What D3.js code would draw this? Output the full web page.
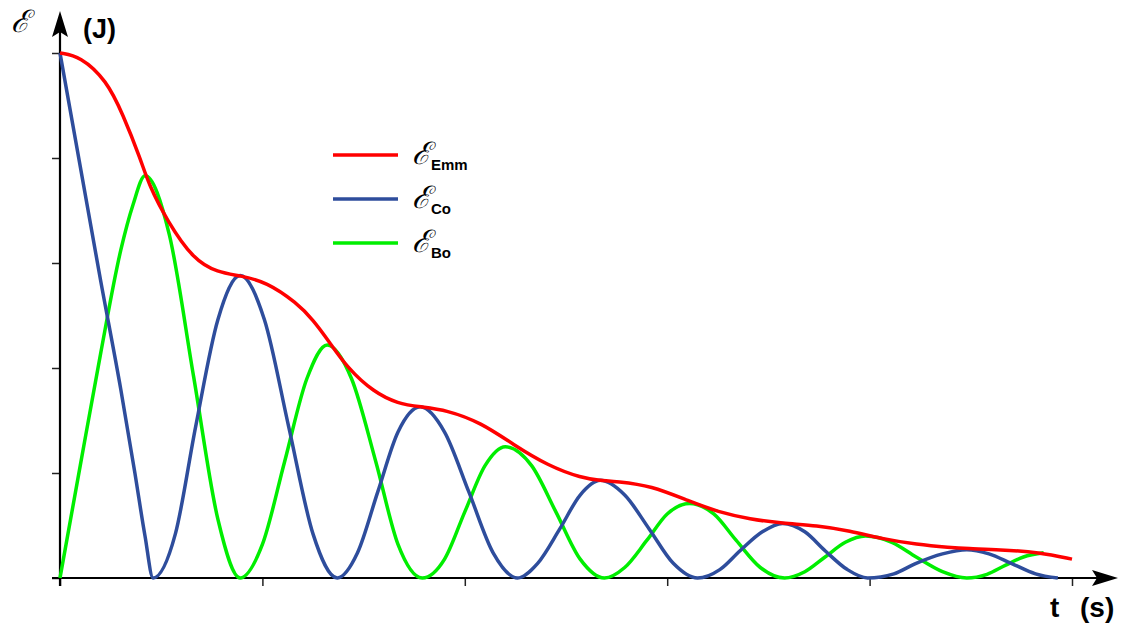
<!DOCTYPE html>
<html>
<head>
<meta charset="utf-8">
<script src="https://cdn.jsdelivr.net/npm/d3@7"></script>
<style>
  body { margin: 0; background: #fff; }
  .tick line { stroke: #222; stroke-width: 1.5; }
  .tick text { display: none; }
</style>
</head>
<body>
<script>
// time (s) and energy (J); axis units are the tick steps
var tickSteps = [0, 1, 2, 3, 4, 5];

var emmT = [0, 0.10, 0.23, 0.31, 0.40, 0.44, 0.53, 0.66, 0.78, 0.89, 1.02, 1.17, 1.25, 1.33, 1.42, 1.55,
            1.67, 1.78, 1.91, 2.08, 2.24, 2.41, 2.58, 2.67, 2.75, 2.92, 3.11, 3.25, 3.41, 3.57, 3.74,
            3.90, 4.07, 4.23, 4.40, 4.48, 4.64, 4.84, 5.00];
var emmE = [5.00, 4.97, 4.74, 4.42, 3.98, 3.74, 3.40, 3.03, 2.91, 2.88, 2.82, 2.62, 2.46, 2.25, 2.00, 1.77,
            1.66, 1.63, 1.60, 1.48, 1.27, 1.07, 0.95, 0.93, 0.92, 0.88, 0.73, 0.63, 0.56, 0.52, 0.50,
            0.45, 0.37, 0.32, 0.29, 0.28, 0.27, 0.245, 0.18];

var coT = [0, 0.20, 0.30, 0.37, 0.42, 0.46,
           0.57, 0.67, 0.78, 0.89, 1.01, 1.13, 1.25, 1.37,
           1.47, 1.57, 1.67, 1.78, 1.90, 2.02, 2.14, 2.26,
           2.36, 2.47, 2.57, 2.67, 2.79, 2.91, 3.03, 3.15,
           3.26, 3.36, 3.47, 3.57, 3.68, 3.78, 3.89, 3.99,
           4.12, 4.23, 4.36, 4.48, 4.59, 4.70, 4.82, 4.93];
var coE = [5.00, 2.84, 1.80, 1.00, 0.40, 0,
           0.42, 1.44, 2.46, 2.88, 2.46, 1.44, 0.42, 0,
           0.24, 0.82, 1.39, 1.63, 1.39, 0.82, 0.24, 0,
           0.14, 0.47, 0.79, 0.93, 0.79, 0.47, 0.14, 0,
           0.08, 0.26, 0.44, 0.52, 0.44, 0.26, 0.08, 0,
           0.04, 0.14, 0.23, 0.27, 0.23, 0.14, 0.04, 0];

var boT = [0, 0.10, 0.20, 0.30, 0.36, 0.42, 0.54, 0.66, 0.78, 0.89,
           1.00, 1.11, 1.22, 1.32, 1.44, 1.56, 1.67, 1.79,
           1.90, 2.00, 2.10, 2.20, 2.33, 2.45, 2.57, 2.69,
           2.79, 2.90, 3.00, 3.11, 3.23, 3.34, 3.46, 3.58,
           3.68, 3.78, 3.88, 3.98, 4.11, 4.23, 4.36, 4.48,
           4.58, 4.67, 4.76, 4.86];
var boE = [0, 1.07, 2.13, 3.12, 3.55, 3.83, 3.27, 1.92, 0.56, 0,
           0.32, 1.11, 1.90, 2.22, 1.90, 1.11, 0.32, 0,
           0.18, 0.63, 1.07, 1.25, 1.07, 0.63, 0.18, 0,
           0.10, 0.36, 0.61, 0.71, 0.61, 0.36, 0.10, 0,
           0.06, 0.20, 0.34, 0.40, 0.34, 0.20, 0.06, 0,
           0.035, 0.12, 0.20, 0.24];

var seriesNames = ["Emm", "Co", "Bo"];
var seriesColors = ["#ff0000", "#2e4d9c", "#00ee00"];

var width = 1125,
    height = 623;

var svg = d3.select("body").append("svg")
    .attr("width", width)
    .attr("height", height);

var x = d3.scaleLinear().domain([0, 5]).range([60, 1072]);
var y = d3.scaleLinear().domain([0, 5]).range([578, 53]);

function zip(ts, es) {
  return ts.map(function(t, i) { return { t: t, e: es[i] }; });
}

var series = [
  { name: "Bo", color: seriesColors[2], values: zip(boT, boE), curve: d3.curveMonotoneX },
  { name: "Co", color: seriesColors[1], values: zip(coT, coE), curve: d3.curveMonotoneX },
  { name: "Emm", color: seriesColors[0], values: zip(emmT, emmE), curve: d3.curveBasis }
];

// axes (ticks only, no labels)
svg.append("g")
    .attr("transform", "translate(0," + y(0) + ")")
    .call(d3.axisBottom(x).tickValues(tickSteps).tickSize(8).tickSizeOuter(0))
    .select(".domain").remove();

svg.append("g")
    .attr("transform", "translate(" + x(0) + ",0)")
    .call(d3.axisLeft(y).tickValues(tickSteps).tickSize(8).tickSizeOuter(0))
    .select(".domain").remove();

// axis lines with arrow heads
svg.append("line")
    .attr("x1", x(0) - 8).attr("y1", y(0))
    .attr("x2", 1100).attr("y2", y(0))
    .attr("stroke", "#000").attr("stroke-width", 2.2);
svg.append("path")
    .attr("d", "M1118," + y(0) + "L1092," + (y(0) - 8) + "L1097," + y(0) + "L1092," + (y(0) + 8) + "Z")
    .attr("fill", "#000");

svg.append("line")
    .attr("x1", x(0)).attr("y1", y(0) + 8)
    .attr("x2", x(0)).attr("y2", 30)
    .attr("stroke", "#000").attr("stroke-width", 2.2);
svg.append("path")
    .attr("d", "M" + x(0) + ",11L" + (x(0) - 8) + ",37L" + x(0) + ",32L" + (x(0) + 8) + ",37Z")
    .attr("fill", "#000");

svg.append("g")
  .selectAll("path")
  .data(series)
  .enter().append("path")
    .attr("d", function(d) {
      return d3.line()
          .x(function(p) { return x(p.t); })
          .y(function(p) { return y(p.e); })
          .curve(d.curve)(d.values);
    })
    .attr("fill", "none")
    .attr("stroke", function(d) { return d.color; })
    .attr("stroke-width", 3.5)
    .attr("stroke-linejoin", "round");

// axis titles
svg.append("text")
    .attr("x", 11).attr("y", 32)
    .style("font-family", "DejaVu Serif, serif")
    .style("font-style", "italic")
    .style("font-size", "31px")
    .text("ℰ");
svg.append("text")
    .attr("x", 83).attr("y", 38)
    .style("font-family", "Liberation Sans, Arial, sans-serif")
    .style("font-weight", "bold")
    .style("font-size", "27px")
    .text("(J)");
svg.append("text")
    .attr("x", 1050).attr("y", 617)
    .style("font-family", "Liberation Sans, Arial, sans-serif")
    .style("font-weight", "bold")
    .style("font-size", "28px")
    .text("t")
  .append("tspan")
    .attr("x", 1080)
    .text("(s)");

// legend
var legend = svg.append("g")
  .selectAll("g")
  .data(seriesNames)
  .enter().append("g")
    .attr("transform", function(d, i) { return "translate(333," + (155 + i * 44) + ")"; });

legend.append("line")
    .attr("x1", 0).attr("x2", 65)
    .attr("stroke", function(d, i) { return seriesColors[i]; })
    .attr("stroke-width", 3.5);

var lt = legend.append("text")
    .attr("x", 79).attr("y", 9)
    .style("font-family", "DejaVu Serif, serif")
    .style("font-style", "italic")
    .style("font-size", "31px");
lt.append("tspan").text("ℰ");
lt.append("tspan")
    .attr("dy", 6)
    .style("font-family", "Liberation Sans, Arial, sans-serif")
    .style("font-style", "normal")
    .style("font-weight", "bold")
    .style("font-size", "15px")
    .text(function(d) { return d; });
</script>
</body>
</html>
